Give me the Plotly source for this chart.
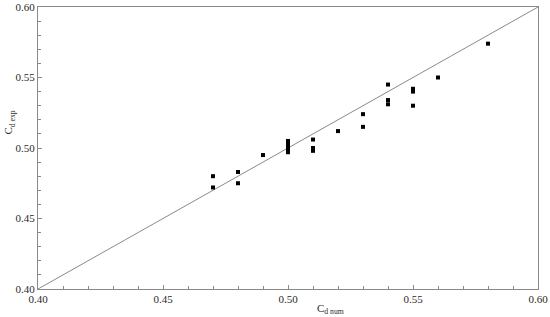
import plotly.graph_objects as go

# ── Data ──────────────────────────────────────────────────────────────────────
cd_num = [0.47, 0.47, 0.48, 0.48, 0.49,
          0.50, 0.50, 0.50, 0.50, 0.50,
          0.51, 0.51, 0.51, 0.52,
          0.53, 0.53, 0.54, 0.54, 0.54,
          0.55, 0.55, 0.55, 0.56, 0.58]
cd_exp = [0.480, 0.472, 0.483, 0.475, 0.495,
          0.505, 0.503, 0.501, 0.499, 0.497,
          0.506, 0.500, 0.498, 0.512,
          0.524, 0.515, 0.545, 0.534, 0.531,
          0.542, 0.540, 0.530, 0.550, 0.574]
line_xy = [0.40, 0.60]
tick_vals = [0.40, 0.45, 0.50, 0.55, 0.60]
tick_text = ["0.40", "0.45", "0.50", "0.55", "0.60"]

GREY = "#8a8a8a"
INK = "#2a2a2a"
FONT = "Liberation Serif, DejaVu Serif, serif"

fig = go.Figure()
fig.add_trace(go.Scatter(
    x=line_xy, y=line_xy, mode="lines",
    line=dict(color=GREY, width=1), hoverinfo="skip",
))
fig.add_trace(go.Scatter(
    x=cd_num, y=cd_exp, mode="markers",
    marker=dict(symbol="square", size=4, color="black", line_width=0),
))

axis = dict(
    range=[0.40, 0.60],
    tickvals=tick_vals, ticktext=tick_text,
    ticks="inside", ticklen=4, tickcolor=GREY,
    minor=dict(dtick=0.01, ticks="inside", ticklen=3, tickcolor=GREY),
    showline=True, linecolor=GREY, linewidth=1, mirror=True,
    showgrid=False, zeroline=False, automargin=False,
    tickfont=dict(family=FONT, size=11, color=INK),
)

fig.update_layout(
    width=550, height=317,
    margin=dict(l=38, r=12, t=7, b=28),
    paper_bgcolor="white", plot_bgcolor="white",
    showlegend=False,
    xaxis=axis, yaxis=axis,
    annotations=[
        dict(text="C<sub>d num</sub>", xref="paper", yref="paper",
             x=0.585, y=-0.07, xanchor="center", yanchor="middle", showarrow=False,
             font=dict(family=FONT, size=11, color=INK)),
        dict(text="C<sub>d exp</sub>", xref="paper", yref="paper",
             x=-0.058, y=0.59, xanchor="center", yanchor="middle", textangle=-90,
             showarrow=False, font=dict(family=FONT, size=11, color=INK)),
    ],
)

# page body has a default 8px margin; drop it so the chart sits at the origin
fig.write_html("out.html", config={"displayModeBar": False},
               post_script="document.body.style.margin='0';")
